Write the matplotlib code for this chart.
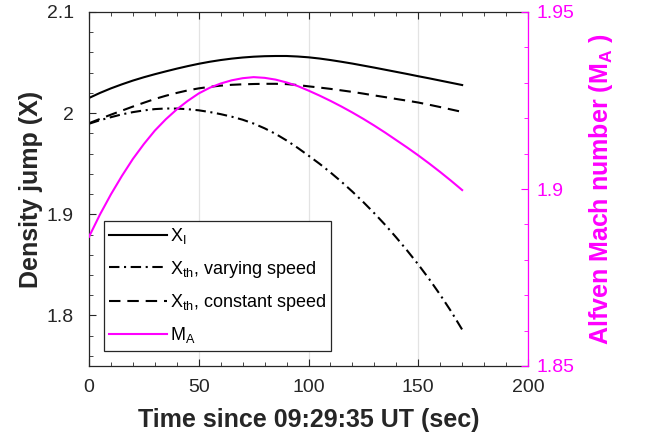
import matplotlib
matplotlib.use("Agg")
import matplotlib.pyplot as plt
from matplotlib.ticker import MultipleLocator, FuncFormatter

plt.rcParams['font.family'] = ['Liberation Sans', 'DejaVu Sans']
plt.rcParams['mathtext.fontset'] = 'custom'
plt.rcParams['mathtext.rm'] = 'Liberation Sans'
plt.rcParams['mathtext.it'] = 'Liberation Sans'
plt.rcParams['mathtext.bf'] = 'Liberation Sans:bold'
plt.rcParams['mathtext.default'] = 'regular'

# time since 09:29:35 UT (sec), every 5 s
t = [0, 5, 10, 15, 20, 25, 30, 35, 40, 45, 50, 55, 60, 65, 70, 75, 80, 85,
     90, 95, 100, 105, 110, 115, 120, 125, 130, 135, 140, 145, 150, 155, 160, 165, 170]

x_i = [2.0150, 2.0200, 2.0245, 2.0285, 2.0322, 2.0355, 2.0385, 2.0413, 2.0440, 2.0465,
       2.0488, 2.0508, 2.0525, 2.0539, 2.0550, 2.0558, 2.0563, 2.0565, 2.0565, 2.0560,
       2.0552, 2.0540, 2.0525, 2.0508, 2.0490, 2.0470, 2.0450, 2.0429, 2.0408, 2.0387,
       2.0365, 2.0344, 2.0322, 2.0300, 2.0278]
x_th_var = [1.9895, 1.9930, 1.9960, 1.9988, 2.0010, 2.0027, 2.0040, 2.0046, 2.0045, 2.0039,
            2.0028, 2.0011, 1.9990, 1.9965, 1.9935, 1.9897, 1.9850, 1.9795, 1.9730, 1.9658,
            1.9580, 1.9500, 1.9414, 1.9322, 1.9224, 1.9120, 1.9010, 1.8894, 1.8770, 1.8640,
            1.8504, 1.8359, 1.8204, 1.8039, 1.7860]
x_th_const = [1.9900, 1.9943, 1.9985, 2.0025, 2.0065, 2.0103, 2.0140, 2.0172, 2.0200, 2.0225,
              2.0245, 2.0260, 2.0272, 2.0280, 2.0285, 2.0288, 2.0290, 2.0290, 2.0287, 2.0278,
              2.0265, 2.0253, 2.0240, 2.0225, 2.0210, 2.0193, 2.0175, 2.0158, 2.0140, 2.0123,
              2.0105, 2.0083, 2.0060, 2.0036, 2.0012]
m_a = [1.8865, 1.8928, 1.8985, 1.9037, 1.9085, 1.9127, 1.9165, 1.9197, 1.9225, 1.9249,
       1.9270, 1.9286, 1.9298, 1.9307, 1.9313, 1.9316, 1.9314, 1.9309, 1.9301, 1.9291,
       1.9278, 1.9264, 1.9249, 1.9233, 1.9216, 1.9198, 1.9179, 1.9159, 1.9138, 1.9117,
       1.9095, 1.9072, 1.9048, 1.9023, 1.8997]

dark = '#262626'
mag = '#FF00FF'

fig = plt.figure(figsize=(6.55, 4.38), dpi=100)
ax = fig.add_axes([89/655, 1-366/438, 439/655, 354/438])
ax2 = ax.twinx()

l1, = ax.plot(t, x_i, color='black', lw=1.5, label='X$_I$')
l2, = ax.plot(t, x_th_var, color='black', lw=1.5, ls=(0, (5, 2.2, 1, 2.2)),
              label='X$_{th}$, varying speed')
l3, = ax.plot(t, x_th_const, color='black', lw=1.5, ls=(0, (5.5, 3.3)),
              label='X$_{th}$, constant speed')
l4, = ax2.plot(t, m_a, color=mag, lw=1.5, label='M$_A$')

ax.set_xlim(0, 200)
ax.set_ylim(1.75, 2.1)
ax2.set_ylim(1.85, 1.95)

ax.xaxis.set_major_locator(MultipleLocator(50))
ax.xaxis.set_minor_locator(MultipleLocator(10))
ax.yaxis.set_major_locator(MultipleLocator(0.1))
ax.yaxis.set_minor_locator(MultipleLocator(0.02))
ax2.yaxis.set_major_locator(MultipleLocator(0.05))
ax2.yaxis.set_minor_locator(MultipleLocator(0.01))

fmt = FuncFormatter(lambda v, p: '%g' % round(v, 4))
ax.yaxis.set_major_formatter(fmt)
ax2.yaxis.set_major_formatter(fmt)

ax.grid(axis='x', color='#e3e3e3', lw=0.9)
ax.set_axisbelow(True)

ax.tick_params(axis='x', which='both', direction='in', top=True, colors=dark,
               labelsize=14, pad=9)
ax.tick_params(axis='x', which='major', length=5)
ax.tick_params(axis='x', which='minor', length=3)
ax.tick_params(axis='y', which='both', direction='in', right=False, colors=dark,
               labelsize=14, pad=11)
ax.tick_params(axis='y', which='major', length=5)
ax.tick_params(axis='y', which='minor', length=3)
ax2.tick_params(axis='y', which='both', direction='in', colors=mag,
                labelsize=14, pad=6)
ax2.tick_params(axis='y', which='major', length=5)
ax2.tick_params(axis='y', which='minor', length=3)

for s in ['left', 'top', 'bottom']:
    ax.spines[s].set_color(dark)
    ax.spines[s].set_linewidth(0.9)
ax2.spines['right'].set_color(mag)
ax2.spines['right'].set_linewidth(0.9)
for s in ['left', 'top', 'bottom']:
    ax2.spines[s].set_visible(False)
ax.spines['right'].set_visible(False)

ax.set_xlabel('Time since 09:29:35 UT (sec)', fontsize=18, fontweight='bold', color=dark)
ax.set_ylabel('Density jump (X)', fontsize=18, fontweight='bold', color=dark)
ax2.set_ylabel(r'Alfven Mach number (M$_\mathbf{A}$ )', fontsize=18, fontweight='bold',
               color=mag)
ax.xaxis.set_label_coords(0.5, -0.12)
ax.yaxis.set_label_coords(-0.105, 0.5)
ax2.yaxis.set_label_coords(1.134, 0.5)

leg = ax2.legend(handles=[l1, l2, l3, l4], loc='upper left', bbox_to_anchor=(0.034, 0.41),
                 borderaxespad=0, fontsize=13, fancybox=False, framealpha=1,
                 edgecolor=dark, handlelength=3.2, handletextpad=0.15,
                 labelspacing=0.68, borderpad=0.3)
leg.get_frame().set_linewidth(0.9)

fig.savefig('out.png', dpi=100)
